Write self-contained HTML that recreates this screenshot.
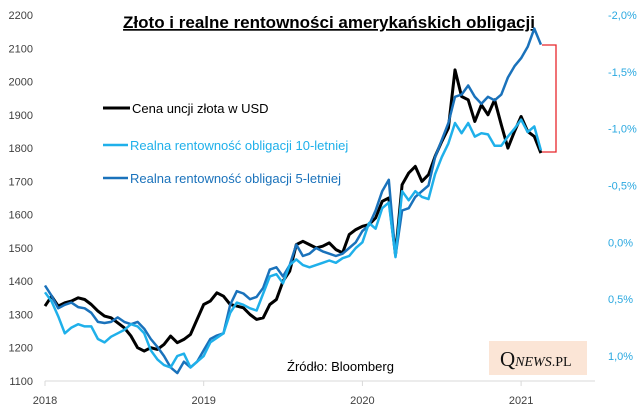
<!DOCTYPE html>
<html><head><meta charset="utf-8">
<style>
body{margin:0;background:#fff;}
svg{display:block;font-family:"Liberation Sans",sans-serif;}
</style></head>
<body>
<svg id="chart" width="643" height="416" viewBox="0 0 643 416">
<rect width="643" height="416" fill="#fff"/>
<text x="329" y="28" text-anchor="middle" font-size="17" font-weight="bold" text-decoration="underline" fill="#000">Złoto i realne rentowności amerykańskich obligacji</text>
<g id="axes"></g>
<g id="series"></g>
<path d="M542 45 H556 V152 H542" fill="none" stroke="#e8262b" stroke-width="1.3"/>
<g>
<line x1="103" y1="108" x2="130" y2="108" stroke="#000" stroke-width="3"/>
<text x="132" y="113" font-size="13" fill="#000">Cena uncji złota w USD</text>
<line x1="103" y1="145" x2="128" y2="145" stroke="#1fb0ea" stroke-width="2.5"/>
<text x="130" y="150" font-size="13" fill="#1fb0ea">Realna rentowność obligacji 10-letniej</text>
<line x1="103" y1="178" x2="128" y2="178" stroke="#1a72bb" stroke-width="2.5"/>
<text x="130" y="183" font-size="13" fill="#1a72bb">Realna rentowność obligacji 5-letniej</text>
</g>
<text x="287" y="371" font-size="13" fill="#000">Źródło: Bloomberg</text>
<g>
<rect x="489" y="341" width="98" height="34" fill="#fbe5d6"/>
<text x="500" y="366" font-family="'Liberation Serif',serif" font-size="21" fill="#111">Q<tspan font-size="14" font-style="italic">NEWS</tspan><tspan font-size="14">.PL</tspan></text>
</g>
</svg>
<script>
const yearTicks = [2018, 2019, 2020, 2021];
const leftTicks = [1100,1200,1300,1400,1500,1600,1700,1800,1900,2000,2100,2200];
const rightTicks = [-2.0,-1.5,-1.0,-0.5,0.0,0.5,1.0];
const gold = [1325,1355,1325,1335,1340,1350,1345,1330,1310,1295,1290,1275,1260,1235,1200,1190,1200,1195,1210,1235,1215,1225,1240,1285,
1330,1340,1365,1355,1330,1325,1320,1300,1285,1290,1330,1345,1400,1430,1510,1520,1510,1500,1505,1515,1495,1485,1540,1555,
1565,1570,1590,1640,1650,1480,1690,1725,1745,1700,1720,1775,1820,1860,2035,1955,1945,1880,1930,1900,1945,1870,1800,1850,
1895,1850,1835,1785];
const real5y = [0.38,0.47,0.58,0.55,0.53,0.57,0.58,0.62,0.7,0.71,0.7,0.66,0.7,0.72,0.7,0.76,0.85,0.92,1.0,1.1,1.15,1.05,1.1,1.05,
0.95,0.85,0.82,0.8,0.55,0.43,0.45,0.5,0.48,0.4,0.24,0.22,0.3,0.2,0.02,0.12,0.1,0.05,0.08,0.1,0.12,0.1,0.05,0.0,
-0.1,-0.15,-0.28,-0.45,-0.55,0.12,-0.28,-0.3,-0.4,-0.45,-0.5,-0.75,-0.9,-1.05,-1.28,-1.3,-1.38,-1.28,-1.22,-1.28,-1.25,-1.3,-1.45,-1.55,
-1.62,-1.72,-1.88,-1.74];
const real10y = [0.44,0.52,0.65,0.8,0.75,0.72,0.74,0.74,0.85,0.88,0.83,0.8,0.77,0.72,0.74,0.8,0.95,1.03,1.08,1.1,1.0,0.98,1.1,1.05,
1.0,0.88,0.84,0.8,0.62,0.53,0.55,0.58,0.6,0.45,0.3,0.28,0.36,0.2,0.15,0.2,0.22,0.2,0.18,0.16,0.18,0.14,0.12,0.05,
0.0,-0.17,-0.12,-0.3,-0.35,0.13,-0.45,-0.37,-0.45,-0.4,-0.38,-0.6,-0.75,-0.87,-1.05,-0.96,-1.05,-0.93,-0.96,-0.95,-0.85,-0.85,-0.93,-1.0,
-1.08,-0.97,-1.02,-0.81];
const NS='http://www.w3.org/2000/svg';
const X0=45, PX_PER_YEAR=158.7;
const xAt = i => X0 + (i/24)*PX_PER_YEAR;
const xYear = y => X0 + (y-2018)*PX_PER_YEAR;
const yLeft = v => 15 + (2200-v)*(366/1100);
const yRight = v => 15 + (v+2.0)*(341/3.0);
const axes=document.getElementById('axes');
const series=document.getElementById('series');
function mk(tag, attrs){const e=document.createElementNS(NS,tag);for(const k in attrs)e.setAttribute(k,attrs[k]);return e;}
const axisLine=mk('line',{x1:X0,y1:381,x2:595,y2:381,stroke:'#d9d9d9','stroke-width':1});


axes.appendChild(axisLine);
yearTicks.forEach(y=>{
  const x=xYear(y);
  const t=mk('line',{x1:x,y1:381,x2:x,y2:386,stroke:'#d9d9d9'});
  
  
  axes.appendChild(t);
  const l=mk('text',{x:x,y:404,'text-anchor':'middle','font-size':11,fill:'#404040'});
  l.textContent=y;
  
  
  axes.appendChild(l);
});
leftTicks.forEach(v=>{
  const l=mk('text',{x:33,y:yLeft(v)+4,'text-anchor':'end','font-size':11,fill:'#404040'});
  l.textContent=v;
  
  
  axes.appendChild(l);
});
rightTicks.forEach(v=>{
  const l=mk('text',{x:608,y:yRight(v)+4,'font-size':11,fill:'#2aa8e0'});
  l.textContent=v.toFixed(1).replace('.',',')+'%';
  
  
  axes.appendChild(l);
});
function line(arr, yf, color, w, name){
  const d=arr.map((v,i)=>(i?'L':'M')+xAt(i).toFixed(1)+' '+yf(v).toFixed(1)).join(' ');
  const p=mk('path',{d:d,fill:'none',stroke:color,'stroke-width':w,'stroke-linejoin':'round'});
  
  
  series.appendChild(p);
}
line(gold,yLeft,'#000',3,'gold-price-line');
line(real5y,yRight,'#1a72bb',2.5,'real-yield-5y-line');
line(real10y,yRight,'#1fb0ea',2.5,'real-yield-10y-line');
</script>
</body></html>
